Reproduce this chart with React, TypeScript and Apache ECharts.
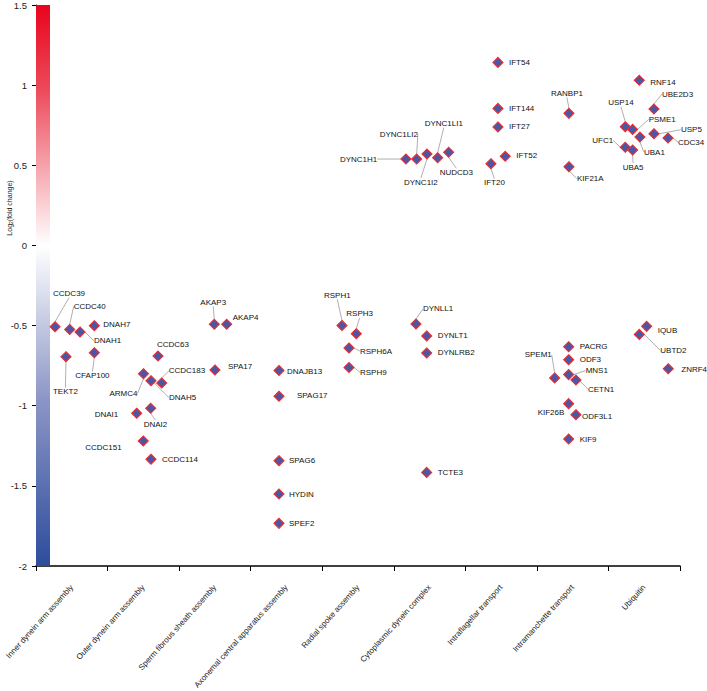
import React, { useEffect, useRef } from "react";
import * as echarts from "echarts";

const categories = [
  "Inner dynein arm assembly",
  "Outer dynein arm assembly",
  "Sperm fibrous sheath assembly",
  "Axonemal central apparatus assembly",
  "Radial spoke assembly",
  "Cytoplasmic dynein complex",
  "Intraflagellar transport",
  "Intramanchette transport",
  "Ubiquitin",
];

const yMin = -2;
const yMax = 1.5;
const yStep = 0.5;

const genes = [
  "CCDC39", "CCDC40", "DNAH1", "DNAH7", "TEKT2", "CFAP100",
  "CCDC63", "ARMC4", "DNAH5", "CCDC183", "DNAI1", "DNAI2", "CCDC151", "CCDC114",
  "AKAP3", "AKAP4", "SPA17",
  "DNAJB13", "SPAG17", "SPAG6", "HYDIN", "SPEF2",
  "RSPH1", "RSPH3", "RSPH6A", "RSPH9",
  "DYNLL1", "DYNLT1", "DYNLRB2", "TCTE3", "DYNC1H1", "DYNC1LI2", "DYNC1I2", "DYNC1LI1", "NUDCD3",
  "IFT54", "IFT144", "IFT27", "IFT52", "IFT20",
  "RANBP1", "KIF21A", "PACRG", "ODF3", "MNS1", "CETN1", "SPEM1", "KIF26B", "ODF3L1", "KIF9",
  "RNF14", "UBE2D3", "USP14", "PSME1", "UBA1", "USP5", "CDC34", "UFC1", "UBA5", "IQUB", "UBTD2", "ZNRF4",
];

// position along the category axis (category index + jitter)
const xPos = [
  0.266, 0.471, 0.615, 0.815, 0.419, 0.815,
  1.705, 1.502, 1.607, 1.757, 1.407, 1.603, 1.499, 1.607,
  2.492, 2.665, 2.501,
  3.396, 3.396, 3.396, 3.396, 3.396,
  4.276, 4.476, 4.374, 4.374,
  5.31, 5.46, 5.46, 5.46, 5.17, 5.32, 5.464, 5.613, 5.767,
  6.456, 6.456, 6.456, 6.558, 6.358,
  7.448, 7.448, 7.444, 7.444, 7.444, 7.546, 7.248, 7.444, 7.546, 7.444,
  8.431, 8.636, 8.235, 8.338, 8.44, 8.636, 8.832, 8.235, 8.338, 8.534, 8.431, 8.836,
];

// log2 fold change
const log2fc = [
  -0.507, -0.524, -0.54, -0.501, -0.694, -0.669,
  -0.69, -0.8, -0.844, -0.858, -1.047, -1.016, -1.22, -1.334,
  -0.492, -0.492, -0.777,
  -0.78, -0.941, -1.343, -1.551, -1.734,
  -0.499, -0.551, -0.64, -0.761,
  -0.49, -0.565, -0.671, -1.416, 0.539, 0.539, 0.57, 0.547, 0.581,
  1.142, 0.855, 0.739, 0.556, 0.51,
  0.824, 0.491, -0.632, -0.713, -0.806, -0.84, -0.827, -0.987, -1.056, -1.208,
  1.03, 0.851, 0.741, 0.724, 0.676, 0.697, 0.67, 0.612, 0.595, -0.505, -0.555, -0.769,
];

// label placement: [dx, dy, leader line 1/0] relative to the marker centre (left edge of text)
const labelPlacement: number[][] = [
  [-2, -33, 1], [4, -23, 1], [14, 9, 1], [9, -1, 0], [-13, 35, 1], [-19, 23, 1],
  [-1, -12, 0], [-34, 20, 1], [18, 17, 1], [7, -12, 1], [-42, 1, 0], [-7, 16, 1], [-58, 7, 0], [11, 0, 0],
  [-14, -22, 1], [6, -7, 0], [13, -3, 0],
  [8, 1, 0], [18, -1, 0], [10, 0, 0], [10, 0, 0], [10, 0, 0],
  [-18, -30, 1], [-10, -20, 1], [11, 3, 1], [11, 5, 1],
  [7, -15, 1], [11, 0, 0], [11, 0, 0], [11, 0, 0], [-66, 0, 1], [-37, -25, 1], [-23, 28, 1], [-13, -34, 1], [-9, 20, 1],
  [11, 0, 0], [11, 0, 0], [11, 0, 0], [11, -1, 0], [-7, 19, 1],
  [-18, -20, 1], [8, 12, 1], [11, 0, 0], [11, 0, 0], [17, -4, 1], [12, 9, 1], [-30, -23, 1], [-31, 9, 0], [6, 2, 0], [11, 0, 0],
  [11, 2, 0], [8, -15, 1], [-17, -24, 1], [16, -10, 1], [4, 15, 1], [27, -4, 1], [10, 4, 1], [-33, -7, 1], [-10, 17, 1], [11, 4, 0], [21, 16, 1], [13, 1, 0],
];

const FONT = "'Liberation Sans', Arial, sans-serif";

export default function App() {
  const ref = useRef<HTMLDivElement>(null);

  useEffect(() => {
    if (!ref.current) return;
    const chart = echarts.init(ref.current, undefined, { renderer: "svg" });

    const points = genes.map((g, i) => ({
      name: g,
      value: [xPos[i], log2fc[i]],
      labelLine: { show: labelPlacement[i][2] === 1 },
    }));

    const gradient = new echarts.graphic.LinearGradient(0, 0, 0, 1, [
      { offset: 0, color: "#e8041c" },
      { offset: 0.15, color: "#ec4a5a" },
      { offset: (yMax - 0) / (yMax - yMin), color: "#ffffff" },
      { offset: 0.7, color: "#8d97c6" },
      { offset: 1, color: "#2c4d9c" },
    ]);

    chart.setOption({
      animation: false,
      backgroundColor: "#ffffff",
      textStyle: { fontFamily: FONT },
      grid: {
        left: 36,
        right: 27,
        top: 5,
        bottom: 125,
        containLabel: false,
        outerBoundsMode: "none",
      },
      xAxis: [
        {
          type: "value",
          min: 0,
          max: categories.length,
          interval: 1,
          position: "bottom",
          axisLine: { show: true, onZero: false, lineStyle: { color: "#000", width: 1.5 } },
          axisTick: { show: true, length: 5, lineStyle: { color: "#000", width: 1 } },
          axisLabel: { show: false },
          splitLine: { show: false },
        },
        {
          type: "category",
          data: categories,
          position: "bottom",
          boundaryGap: true,
          axisLine: { show: false },
          axisTick: { show: false },
          splitLine: { show: false },
          axisLabel: {
            interval: 0,
            rotate: 48,
            margin: 20,
            fontSize: 8,
            color: "#222",
            fontFamily: FONT,
          },
        },
      ],
      yAxis: {
        type: "value",
        min: yMin,
        max: yMax,
        interval: yStep,
        axisLine: { show: true, onZero: false, lineStyle: { color: "#000", width: 1 } },
        axisTick: { show: true, length: 4, lineStyle: { color: "#000" } },
        axisLabel: { fontSize: 9.5, color: "#222", margin: 9, fontFamily: FONT },
        splitLine: { show: false },
      },
      graphic: [
        {
          type: "text",
          x: 9,
          y: 208,
          rotation: Math.PI / 2,
          style: {
            text: "Log{s|2}(fold change)",
            fontSize: 7,
            fontFamily: FONT,
            fill: "#222",
            align: "center",
            verticalAlign: "middle",
            rich: { s: { fontSize: 5, fontFamily: FONT, fill: "#222", padding: [4, 0, 0, 0] } },
          },
        },
      ],
      series: [
        {
          type: "custom",
          xAxisIndex: 0,
          yAxisIndex: 0,
          clip: false,
          silent: true,
          z: 3,
          data: [[0, yMax]],
          renderItem: (params: any, api: any) => {
            const top = api.coord([0, yMax]);
            const bottom = api.coord([0, yMin]);
            return {
              type: "rect",
              shape: { x: top[0], y: top[1], width: 14, height: bottom[1] - top[1] },
              style: { fill: gradient },
            };
          },
        },
        {
          type: "scatter",
          xAxisIndex: 0,
          yAxisIndex: 0,
          symbol: "diamond",
          symbolSize: 10,
          z: 5,
          itemStyle: {
            color: "#4b57a6",
            borderColor: "#f02a2a",
            borderWidth: 1.1,
            opacity: 1,
          },
          label: {
            show: true,
            position: "right",
            formatter: "{b}",
            fontSize: 8,
            color: "#111111",
            textBorderWidth: 0,
            textBorderColor: "transparent",
            textShadowBlur: 0,
            fontFamily: FONT,
          },
          labelLine: {
            show: true,
            length2: 0,
            smooth: false,
            lineStyle: { color: "#9a9a9a", width: 0.8 },
          },
          labelLayout: (p: any) => {
            const o = labelPlacement[p.dataIndex];
            const cx = p.rect.x + p.rect.width / 2;
            const cy = p.rect.y + p.rect.height / 2;
            return { x: cx + o[0], y: cy + o[1], align: "left", verticalAlign: "middle" };
          },
          data: points,
        },
      ],
    });

    return () => {
      chart.dispose();
    };
  }, []);

  return (
    <div
      ref={ref}
      style={{ position: "fixed", left: 0, top: 0, width: 707, height: 691, background: "#fff" }}
    />
  );
}
